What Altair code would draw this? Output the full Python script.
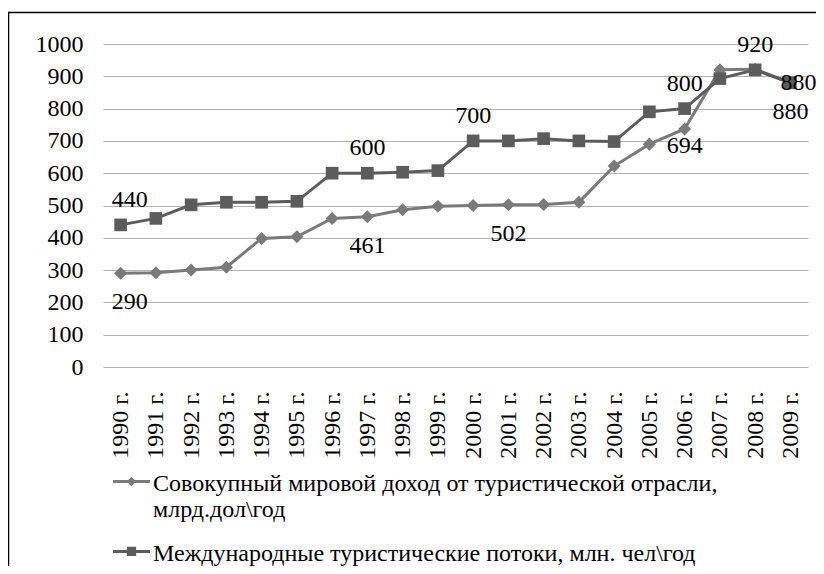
import altair as alt
import pandas as pd

years = ["1990 г.", "1991 г.", "1992 г.", "1993 г.", "1994 г.", "1995 г.", "1996 г.",
         "1997 г.", "1998 г.", "1999 г.", "2000 г.", "2001 г.", "2002 г.", "2003 г.",
         "2004 г.", "2005 г.", "2006 г.", "2007 г.", "2008 г.", "2009 г."]
income = [290, 292, 300, 309, 398, 403, 460, 465, 487, 498, 500, 502, 503, 510,
          622, 690, 737, 920, 922, 880]
flows = [440, 460, 502, 510, 510, 513, 600, 600, 603, 608, 700, 700, 707, 700,
         698, 790, 800, 893, 920, 880]

s1 = "Совокупный мировой доход от туристической отрасли,|млрд.дол\\год"
s2 = "Международные туристические потоки, млн. чел\\год"
series_names = [s1, s2]
colors = ["#7a7a7a", "#5c5c5c"]

# data labels (year, text, placement)
lab1_years = ["1990 г.", "1997 г.", "2001 г.", "2006 г.", "2009 г."]
lab1_text = ["290", "461", "502", "694", "880"]
lab1_pos = ["below_r", "below", "below", "near", "below"]
lab2_years = ["1990 г.", "1997 г.", "2000 г.", "2006 г.", "2008 г.", "2009 г."]
lab2_text = ["440", "600", "700", "800", "920", "880"]
lab2_pos = ["above_r", "above", "above", "above", "above", "right"]

rows = []
for y, v in zip(years, income):
    rows.append({"year": y, "value": v, "series": s1})
for y, v in zip(years, flows):
    rows.append({"year": y, "value": v, "series": s2})
df = pd.DataFrame(rows)

lrows = []
for y, t, p in zip(lab1_years, lab1_text, lab1_pos):
    lrows.append({"year": y, "value": income[years.index(y)], "text": t, "pos": p})
for y, t, p in zip(lab2_years, lab2_text, lab2_pos):
    lrows.append({"year": y, "value": flows[years.index(y)], "text": t, "pos": p})
ldf = pd.DataFrame(lrows)

FONT = "Liberation Serif"
FS = 24

x_enc = alt.X("year:N", sort=years, scale=alt.Scale(type="point", padding=0.5),
              axis=alt.Axis(title=None, labelAngle=-90, labelFont=FONT, labelFontSize=FS,
                            labelColor="black", ticks=False, domain=False, grid=False,
                            labelPadding=24))
y_enc = alt.Y("value:Q", scale=alt.Scale(domain=[0, 1000], nice=False),
              axis=alt.Axis(title=None, values=list(range(0, 1001, 100)), format="d",
                            labelFont=FONT, labelFontSize=FS, labelColor="black",
                            ticks=False, domain=False, gridColor="#b0b0b0", gridWidth=1,
                            labelPadding=20))
color_scale = alt.Scale(domain=series_names, range=colors)

base = alt.Chart(df)

lines = base.mark_line(strokeWidth=3).encode(
    x=x_enc, y=y_enc,
    color=alt.Color("series:N", scale=color_scale, legend=None),
)

points = base.mark_point(filled=True, opacity=1).encode(
    x=x_enc, y=y_enc,
    color=alt.Color("series:N", scale=color_scale, legend=None),
    shape=alt.Shape("series:N", scale=alt.Scale(domain=series_names, range=["diamond", "square"]), legend=None),
    size=alt.Size("series:N", scale=alt.Scale(domain=series_names, range=[170, 160]), legend=None),
)

leg_paths = [
    "M-1,0.46H1V0.62H-1Z M0,0.28L0.26,0.54L0,0.8L-0.26,0.54Z",
    "M-1,0.46H1V0.62H-1Z M-0.25,0.29H0.25V0.79H-0.25Z",
]
legend = alt.Legend(title=None, orient="none", legendX=10, legendY=409, direction="vertical",
                    labelFont=FONT, labelFontSize=FS, labelColor="black", labelLimit=760,
                    symbolSize=1369, symbolOpacity=1, symbolStrokeWidth=0, labelOffset=3,
                    labelExpr="split(datum.label, '|')", labelBaseline="top",
                    rowPadding=1)
leg_layer = base.mark_point(filled=True, opacity=0).encode(
    x=x_enc, y=y_enc,
    color=alt.Color("series:N", scale=color_scale, legend=legend),
    shape=alt.Shape("series:N", scale=alt.Scale(domain=series_names, range=leg_paths), legend=legend),
)

lab = alt.Chart(ldf)
def text_layer(pos, **kw):
    return lab.transform_filter(alt.datum.pos == pos).mark_text(
        font=FONT, fontSize=FS, color="black", **kw).encode(
        x=x_enc, y=y_enc, text="text:N")

labels = (text_layer("below", dy=29) + text_layer("below_r", dy=29, dx=9) +
          text_layer("near", dy=17) + text_layer("above", dy=-25) +
          text_layer("above_r", dy=-25, dx=9) + text_layer("right", dx=8))

border = alt.Chart(pd.DataFrame({"a": [0]})).mark_rect(
    filled=False, stroke="black", strokeWidth=1.5).encode(
    x=alt.value(-94.5), x2=alt.value(730), y=alt.value(-31.5), y2=alt.value(560))

chart = alt.layer(lines, points, leg_layer, labels, border).resolve_scale(
    shape="independent", color="independent"
).properties(
    width=705, height=323,
    autosize=alt.AutoSizeParams(type="none"),
    padding={"left": 95, "top": 36, "right": 8, "bottom": 199},
).configure_view(strokeWidth=0)

chart.save("out.html", embed_options={"renderer": "svg", "actions": False})
